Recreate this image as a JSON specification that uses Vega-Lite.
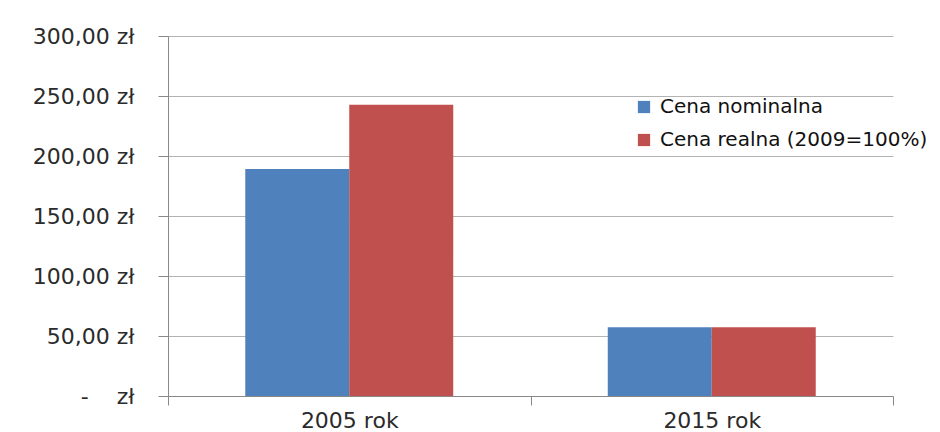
{
  "$schema": "https://vega.github.io/schema/vega-lite/v6.json",
  "autosize": {"type": "none"},
  "width": 725,
  "height": 360,
  "padding": {"left": 168, "top": 36, "right": 47, "bottom": 36},
  "background": "white",
  "config": {
    "font": "DejaVu Sans",
    "view": {"stroke": null},
    "axis": {"labelFont": "DejaVu Sans", "labelColor": "#2b2b2b"}
  },
  "data": {
    "values": [
      {"rok": "2005 rok", "seria": "Cena nominalna", "cena": 189.2},
      {"rok": "2005 rok", "seria": "Cena realna (2009=100%)", "cena": 242.8},
      {"rok": "2015 rok", "seria": "Cena nominalna", "cena": 57.3},
      {"rok": "2015 rok", "seria": "Cena realna (2009=100%)", "cena": 57.3}
    ]
  },
  "mark": {"type": "bar"},
  "encoding": {
    "x": {
      "field": "rok",
      "type": "nominal",
      "sort": null,
      "scale": {"paddingInner": 0, "paddingOuter": 0},
      "axis": {
        "title": null,
        "labelAngle": 0,
        "labelFontSize": 22,
        "labelPadding": 5,
        "domainColor": "#888888",
        "tickColor": "#888888",
        "tickSize": 9,
        "tickBand": "extent",
        "grid": false
      }
    },
    "xOffset": {
      "field": "seria",
      "type": "nominal",
      "sort": null,
      "scale": {"paddingInner": 0, "paddingOuter": 0.743}
    },
    "y": {
      "field": "cena",
      "type": "quantitative",
      "scale": {"domain": [0, 300], "nice": false},
      "axis": {
        "title": null,
        "values": [0, 50, 100, 150, 200, 250, 300],
        "labelExpr": "datum.value == 0 ? '-\u00a0\u00a0\u00a0\u00a0zł' : replace(format(datum.value, '.2f'), '.', ',') + '\u00a0zł'",
        "labelFontSize": 22,
        "labelPadding": 24,
        "tickSize": 10,
        "tickColor": "#888888",
        "domainColor": "#888888",
        "gridColor": "#b3b3b3",
        "gridWidth": 1.2
      }
    },
    "color": {
      "field": "seria",
      "type": "nominal",
      "sort": null,
      "scale": {"range": ["#4F81BD", "#C0504D"]},
      "legend": {
        "title": null,
        "orient": "none",
        "legendX": 466,
        "legendY": 61,
        "symbolType": "square",
        "symbolSize": 150,
        "symbolStrokeWidth": 0,
        "labelFontSize": 20,
        "labelLimit": 400,
        "labelColor": "#111111",
        "rowPadding": 13,
        "labelOffset": 6
      }
    }
  }
}
